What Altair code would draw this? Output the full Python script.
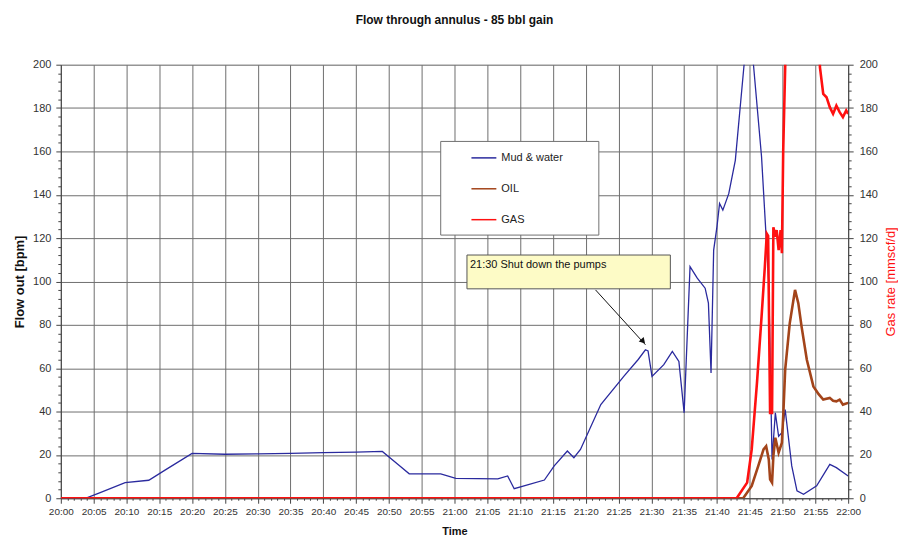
import altair as alt
import pandas as pd

# ---- data (minutes after 20:00, value) ----
mud_t = [0, 3.75, 6, 9.8, 13.4, 16, 20, 25, 30, 35, 40, 45, 49, 51.4, 53.1, 57.9, 60.2,
         66.6, 68.1, 69.1, 71, 73.7, 75.2, 77.2, 78.2, 79.2, 82.3, 85.8, 88, 89.1, 89.5,
         90.1, 91.9, 93.2, 94.2, 95.0, 95.9, 97.0, 98.2, 98.7, 99.1, 99.5, 100.0, 100.4,
         100.9, 101.8, 102.8, 104.1, 104.6, 105.1, 105.6, 106.8, 107.9, 108.4, 108.9,
         109.4, 109.9, 110.4, 111.4, 112.2, 113.2, 115.2, 117.2, 118.2, 120]
mud_v = [0, 0, 2.6, 7.2, 8.3, 13.2, 20.7, 20.3, 20.5, 20.7, 21.0, 21.3, 21.6, 15.6, 11.3,
         11.2, 9.2, 8.9, 10.3, 4.4, 6.0, 8.4, 14.9, 21.8, 18.7, 22.5, 43.2, 56.2, 64, 68.5,
         68, 56.2, 61.6, 67.7, 63.1, 39.4, 106.8, 101.5, 96.9, 90, 57.8, 114.5, 125.2, 136,
         132.9, 140.5, 155.9, 198.8, 215, 215, 198.8, 157.4, 99.2, 17.9, 39.4, 28.6, 30.2,
         40.9, 14.9, 3.4, 1.8, 5.7, 15.6, 14.1, 10.3]

oil_t = [0, 104, 105.3, 106.3, 107.1, 107.5, 107.9, 108.1, 108.4, 108.6, 108.9, 109.4,
         109.9, 110.1, 110.4, 111.1, 111.9, 112.4, 112.9, 113.7, 114.7, 115.5, 116.2,
         117.2, 117.7, 118.2, 118.7, 119.2, 120]
oil_v = [0, 0, 5.7, 14.9, 22.5, 24, 17.9, 8.7, 7.2, 19.5, 27.9, 21, 25.6, 37.8, 59.3,
         80.8, 96.1, 90, 79.2, 63.9, 51.6, 48, 45.5, 46.3, 45, 44.7, 45.5, 43.2, 44]

gas_t = [0, 103, 104.6, 105.3, 106.1, 106.8, 107.3, 107.6, 107.8, 108.1, 108.4, 108.6,
         108.9, 109.1, 109.4, 109.7, 109.9, 110.1, 110.4, 110.8, 115.3, 115.7, 116.2,
         116.7, 117.2, 117.7, 118.2, 118.7, 119.2, 119.7, 120]
gas_v = [0, 0, 7.2, 22.5, 53.2, 83.8, 106.8, 122, 121, 39.4, 39.4, 125, 120.6, 123.7,
         114.5, 123.7, 113, 160.5, 198.8, 240, 240, 198.8, 186.5, 185, 180.4, 177.3,
         181.1, 178.1, 175.8, 178.9, 177.3]

series_names = ["Mud & water", "OIL", "GAS"]
series_colors = ["#2a2a9e", "#a3441a", "#ff1010"]

annotation_text = "21:30 Shut down the pumps"
annotation_box = {"t0": 61.9, "t1": 92.9, "v0": 96.6, "v1": 112.2}
annotation_arrow = {"t0": 81.5, "v0": 96.1, "t1": 89.1, "v1": 70.8}
legend_box = {"t0": 57.9, "t1": 82.0, "v0": 121.4, "v1": 164.6}

FONT = "Liberation Sans"

mud = pd.DataFrame({"t": mud_t, "v": mud_v, "series": series_names[0]})
oil = pd.DataFrame({"t": oil_t, "v": oil_v, "series": series_names[1]})
gas = pd.DataFrame({"t": gas_t, "v": gas_v, "series": series_names[2]})

x_scale = alt.Scale(domain=[0, 120], nice=False, zero=False)
y_scale = alt.Scale(domain=[0, 200], nice=False)

GRID = "#6e6e6e"

x_axis = alt.Axis(
    values=list(range(0, 121)), tickCount=500,
    labelExpr="datum.value % 5 == 0 ? (format(floor(datum.value/60)+20,'d') + ':' + format(datum.value % 60,'02d')) : ''",
    labelOverlap=False, labelFlush=False, labelFont=FONT, labelFontSize=10, labelColor="#333",
    labelPadding=3,
    tickSize={"condition": {"test": "datum.value % 5 === 0", "value": 5}, "value": 2},
    tickColor="#444", domainColor="#444",
    grid=True, gridColor=GRID,
    gridOpacity={"condition": {"test": "datum.value % 5 === 0", "value": 1}, "value": 0},
    title="Time", titleFont=FONT, titleFontSize=11, titleFontWeight="bold",
    titleColor="#111", titlePadding=9,
)

left_axis = alt.Axis(
    values=list(range(0, 201, 4)), tickCount=500,
    labelExpr="datum.value % 20 == 0 ? format(datum.value, 'd') : ''",
    labelOverlap=False, labelFlush=False, labelFont=FONT, labelFontSize=11, labelColor="#333",
    labelPadding=5,
    tickSize={"condition": {"test": "datum.value % 20 === 0", "value": 5}, "value": 3},
    tickColor="#444", domainColor="#444",
    grid=True, gridColor=GRID,
    gridOpacity={"condition": {"test": "datum.value % 20 === 0", "value": 1}, "value": 0},
    title="Flow out [bpm]", titleFont=FONT, titleFontSize=13, titleFontWeight="bold",
    titleColor="#111", titlePadding=6,
)

right_axis = alt.Axis(
    orient="right",
    values=list(range(0, 201, 4)), tickCount=500,
    labelExpr="datum.value % 20 == 0 ? format(datum.value, 'd') : ''",
    labelOverlap=False, labelFlush=False, labelFont=FONT, labelFontSize=11, labelColor="#333",
    labelPadding=6,
    tickSize={"condition": {"test": "datum.value % 20 === 0", "value": 5}, "value": 3},
    tickColor="#444", domainColor="#444",
    grid=False,
    title="Gas rate [mmscf/d]", titleFont=FONT, titleFontSize=13, titleFontWeight="normal",
    titleColor="#ff1010", titlePadding=7, titleAngle=270, titleBaseline="top",
)

color = alt.Color(
    "series:N",
    scale=alt.Scale(domain=series_names, range=series_colors),
    legend=alt.Legend(
        orient="none", legendX=411, legendY=80, title=None,
        symbolType="stroke", symbolSize=625, symbolStrokeWidth=1.5,
        labelFont=FONT, labelFontSize=11, labelColor="#222", labelOffset=4,
        rowPadding=12, padding=0,
    ),
)

base_x = alt.X("t:Q", scale=x_scale, axis=x_axis)

legend_rect = alt.Chart().mark_rect(fill="white", stroke="#707070", strokeWidth=1).encode(
    x=alt.datum(legend_box["t0"], type="quantitative"),
    x2=alt.datum(legend_box["t1"]),
    y=alt.datum(legend_box["v0"], type="quantitative"),
    y2=alt.datum(legend_box["v1"]),
)

mud_line = alt.Chart(mud).mark_line(strokeWidth=1.3, clip=True, interpolate="linear").encode(
    x=base_x, y=alt.Y("v:Q", scale=y_scale, axis=left_axis), color=color,
)
oil_line = alt.Chart(oil).mark_line(strokeWidth=2.6, clip=True).encode(
    x=alt.X("t:Q"), y=alt.Y("v:Q"), color=color,
)

ann_rect = alt.Chart().mark_rect(fill="#fdfbc6", stroke="#555555", strokeWidth=1).encode(
    x=alt.datum(annotation_box["t0"], type="quantitative"),
    x2=alt.datum(annotation_box["t1"]),
    y=alt.datum(annotation_box["v0"], type="quantitative"),
    y2=alt.datum(annotation_box["v1"]),
)
ann_text = alt.Chart().mark_text(
    text=annotation_text, align="left", baseline="middle", font=FONT, fontSize=11,
    color="#111", dx=3,
).encode(
    x=alt.datum(annotation_box["t0"], type="quantitative"),
    y=alt.datum(107.6, type="quantitative"),
)
ann_arrow = alt.Chart().mark_rule(color="#111", strokeWidth=1).encode(
    x=alt.datum(annotation_arrow["t0"], type="quantitative"),
    x2=alt.datum(annotation_arrow["t1"]),
    y=alt.datum(annotation_arrow["v0"], type="quantitative"),
    y2=alt.datum(annotation_arrow["v1"]),
)
ann_head = alt.Chart().mark_point(
    shape="triangle-up", filled=True, color="#111", size=45, angle=138, opacity=1,
).encode(
    x=alt.datum(annotation_arrow["t1"] - 0.35, type="quantitative"),
    y=alt.datum(annotation_arrow["v1"] + 1.6, type="quantitative"),
)

left_layer = alt.layer(legend_rect, mud_line, oil_line, ann_rect, ann_text, ann_arrow, ann_head)

gas_line = alt.Chart(gas).mark_line(strokeWidth=2.6, clip=True).encode(
    x=alt.X("t:Q", scale=x_scale),
    y=alt.Y("v:Q", scale=y_scale, axis=right_axis),
    color=color,
)

chart = alt.layer(left_layer, gas_line).resolve_scale(y="independent").properties(
    width=790, height=435,
    title=alt.TitleParams(
        "Flow through annulus - 85 bbl gain", font=FONT, fontSize=12, fontWeight="bold",
        color="#111", anchor="middle", frame="group", offset=32,
    ),
    padding={"left": 5, "top": 5, "right": 0, "bottom": 0},
).configure_view(stroke="#808080").configure(background="white")

chart.save("out.html", embed_options={"renderer": "svg", "actions": False})
